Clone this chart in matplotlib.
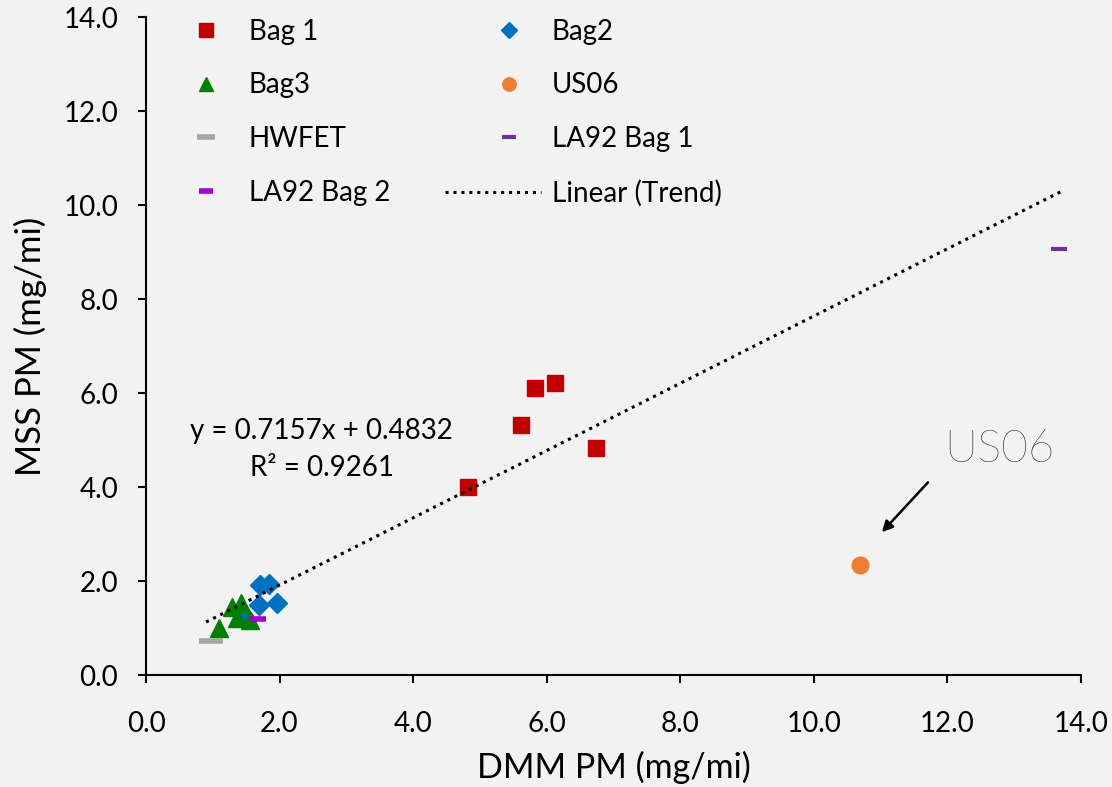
import matplotlib
matplotlib.use("Agg")
import matplotlib.pyplot as plt
from matplotlib.legend_handler import HandlerLine2D
import numpy as np

plt.rcParams['font.family'] = ['Lato', 'DejaVu Sans']

bag1_x = [4.82, 5.61, 5.82, 6.12, 6.74]
bag1_y = [4.00, 5.32, 6.10, 6.21, 4.83]
bag2_x = [1.71, 1.84, 1.69, 1.96, 1.45]
bag2_y = [1.91, 1.94, 1.49, 1.53, 1.28]
bag3_x = [1.09, 1.29, 1.42, 1.36, 1.56]
bag3_y = [1.00, 1.45, 1.53, 1.21, 1.17]
us06_x = [10.69]
us06_y = [2.34]
hwfet_x = [0.97]
hwfet_y = [0.72]
la92b1_x = [13.68]
la92b1_y = [9.06]
la92b2_x = [1.68]
la92b2_y = [1.19]
slope, intercept = 0.7157, 0.4832
r2 = 0.9261
trend_range = [0.9, 13.7]
ticks = [0, 2, 4, 6, 8, 10, 12, 14]


class LongHandler(HandlerLine2D):
    def create_artists(self, legend, orig_handle, xdescent, ydescent, width, height, fontsize, trans):
        return super().create_artists(legend, orig_handle, xdescent + 30, ydescent,
                                      width + 37, height, fontsize, trans)


bg = '#f2f2f2'
fig = plt.figure(figsize=(11.12, 7.87), dpi=100, facecolor=bg)
ax = fig.add_axes([0.1313, 0.1423, 0.8407, 0.8357], facecolor=bg)

ax.plot(bag1_x, bag1_y, 's', color='#C00000', markersize=12, linestyle='none', label='Bag 1')
ax.plot(bag2_x, bag2_y, 'D', color='#0070C0', markersize=10, linestyle='none', label='Bag2')
ax.plot(bag3_x, bag3_y, '^', color='#008000', markersize=13, linestyle='none', label='Bag3')
ax.plot(us06_x, us06_y, 'o', color='#ED7D31', markersize=12, linestyle='none', label='US06')
ax.plot(hwfet_x, hwfet_y, '_', color='#A5A5A5', markersize=17, mew=4, linestyle='none', label='HWFET')
ax.plot(la92b1_x, la92b1_y, '_', color='#7030A0', markersize=12, mew=3, linestyle='none', label='LA92 Bag 1')
ax.plot(la92b2_x, la92b2_y, '_', color='#A100CE', markersize=12, mew=4, linestyle='none', label='LA92 Bag 2')
tx = np.array(trend_range)
trend, = ax.plot(tx, slope * tx + intercept, linestyle=(0, (1, 1.6)), color='black', lw=2.2,
                 label='Linear (Trend)')

ax.set_xlim(0, 14)
ax.set_ylim(0, 14)
ax.set_xticks(ticks)
ax.set_yticks(ticks)
ax.set_xticklabels([f'{t:.1f}' for t in ticks], fontsize=20)
ax.set_yticklabels([f'{t:.1f}' for t in ticks], fontsize=20)
ax.tick_params(direction='out', length=6, width=1.5)
ax.tick_params(axis='x', pad=20)
ax.tick_params(axis='y', pad=14)
for s in ['top', 'right']:
    ax.spines[s].set_visible(False)
for s in ['left', 'bottom']:
    ax.spines[s].set_linewidth(1.5)
ax.set_xlabel('DMM PM (mg/mi)', fontsize=24.5, labelpad=10)
ax.set_ylabel('MSS PM (mg/mi)', fontsize=25, labelpad=12)

ax.text(2.63, 4.80, f'y = {slope}x + {intercept}\nR² = {r2}', fontsize=20,
        ha='center', va='center', multialignment='center', linespacing=1.5)

ax.text(12.78, 4.36, 'US06', fontsize=33, fontweight='light', ha='center', va='bottom')
ax.annotate('', xy=(11.02, 3.04), xytext=(11.71, 4.1),
            arrowprops=dict(arrowstyle='-|>', color='black', lw=1.8, mutation_scale=16,
                            shrinkA=0, shrinkB=0))

handles, labels = ax.get_legend_handles_labels()
order = [0, 2, 4, 6, 1, 3, 5, 7]
leg = ax.legend([handles[i] for i in order], [labels[i] for i in order], ncol=2,
                loc='upper left', bbox_to_anchor=(0.014, 1.036), frameon=False,
                fontsize=20, handlelength=1.6, handletextpad=0.72, columnspacing=3.5,
                labelspacing=1.0, numpoints=1, markerscale=0.8,
                handler_map={trend: LongHandler()})

fig.savefig('out.png', dpi=100, facecolor=bg)
